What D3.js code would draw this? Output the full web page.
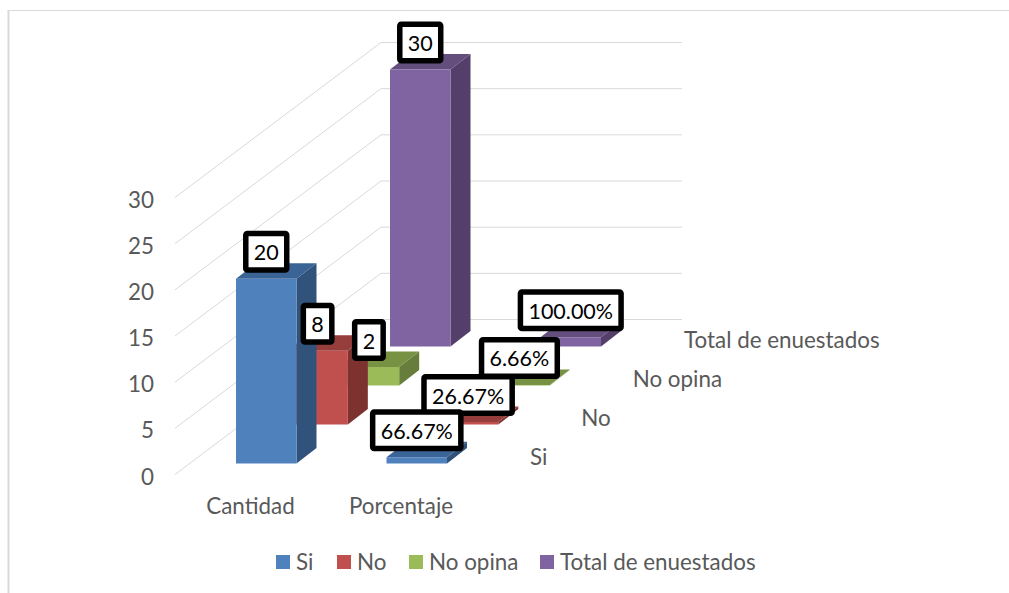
<!DOCTYPE html>
<html><head><meta charset="utf-8">
<script src="https://cdn.jsdelivr.net/npm/d3@7/dist/d3.min.js"></script>
<style>html,body{margin:0;padding:0;background:#fff}svg{display:block}text{font-family:Lato,sans-serif}</style>
</head><body><svg id="c" width="1009" height="593"></svg>
<script>
const categories = ["Cantidad", "Porcentaje"];
const seriesNames = ["Si", "No", "No opina", "Total de enuestados"];
const cantidad = [20, 8, 2, 30];
const porcentaje = [0.6667, 0.2667, 0.0666, 1];
const cantidadLabels = ["20", "8", "2", "30"];
const porcentajeLabels = ["66.67%", "26.67%", "6.66%", "100.00%"];
const yTicks = [0, 5, 10, 15, 20, 25, 30];
const faceColors = ["#4F81BD", "#C0504D", "#9BBB59", "#8064A2"];
const sideColors = ["#31527A", "#7E3230", "#677D3B", "#533F69"];
const topColors = ["#3A6496", "#953E3B", "#779243", "#634E7E"];

const svg = d3.select("#c");
const GRID = "#D9D9D9", TXT = "#595959", FS = 22.4;

// pseudo-3D projection: value -> up, category -> right, series -> into the page
const h = d3.scaleLinear().domain([0, 30]).range([0, 277]);
const catX = d3.scalePoint().domain(categories).range([236, 386.5]);
const depthX = d3.scalePoint().domain(seriesNames).range([0, 154]);
const depthY = d3.scalePoint().domain(seriesNames).range([463.5, 346.5]);
const barW = 60.5, sideDX = 20, sideDY = 15.5;

// frame
svg.append("path").attr("d", d3.line()([[8.5, 593], [8.5, 10.5]]))
  .attr("fill", "none").attr("stroke", GRID).attr("stroke-width", 2);
svg.append("path").attr("d", d3.line()([[7.5, 10.5], [1009, 10.5]]))
  .attr("fill", "none").attr("stroke", GRID).attr("stroke-width", 1);

// walls
const wallFrontX = 175, wallFrontY0 = 474.5, wallBackX = 381, wallBackY0 = 319.5, wallEndX = 682;
const grid = svg.append("g").attr("fill", "none").attr("stroke", GRID).attr("stroke-width", 1);
yTicks.forEach(t => {
  grid.append("path").attr("d", d3.line()([
    [wallFrontX, wallFrontY0 - h(t)], [wallBackX, wallBackY0 - h(t)], [wallEndX, wallBackY0 - h(t)]
  ]));
});

// value axis
const axisT = svg.append("g").attr("font-size", FS).attr("fill", TXT).attr("text-anchor", "end");
yTicks.forEach(t => axisT.append("text").attr("x", 154).attr("y", wallFrontY0 - h(t) + 10).text(t));

// bars, back to front
const rows = [];
categories.forEach((c, ci) => seriesNames.forEach((s, si) => rows.push({
  c, s, si,
  v: ci === 0 ? cantidad[si] : porcentaje[si],
  label: ci === 0 ? cantidadLabels[si] : porcentajeLabels[si]
})));
rows.sort((a, b) => b.si - a.si);

const bars = svg.append("g");
rows.forEach(d => {
  const x0 = catX(d.c) + depthX(d.s), x1 = x0 + barW, yb = depthY(d.s), yt = yb - h(d.v);
  const poly = pts => d3.line()(pts) + "Z";
  const g = bars.append("g");
  g.append("path").attr("fill", sideColors[d.si]).attr("d", poly([[x1, yb], [x1 + sideDX, yb - sideDY], [x1 + sideDX, yt - sideDY], [x1, yt]]));
  g.append("path").attr("fill", topColors[d.si]).attr("d", poly([[x0, yt], [x0 + sideDX, yt - sideDY], [x1 + sideDX, yt - sideDY], [x1, yt]]));
  g.append("path").attr("fill", faceColors[d.si]).attr("d", poly([[x0, yb], [x1, yb], [x1, yt], [x0, yt]]));
});

// data labels
const labels = svg.append("g");
rows.forEach(d => {
  const cx = catX(d.c) + depthX(d.s) + barW / 2, cy = depthY(d.s) - h(d.v) - 27;
  const g = labels.append("g");
  const r = g.append("rect").attr("fill", "#fff").attr("stroke", "#000").attr("stroke-width", 5.5).attr("rx", 1.5);
  const t = g.append("text").attr("x", cx).attr("y", cy + 8.5).attr("text-anchor", "middle").attr("font-size", 21.5).attr("fill", "#000").text(d.label);
  const w = t.node().getComputedTextLength() + 16;
  r.attr("x", cx - w / 2).attr("y", cy - 18.25).attr("width", w).attr("height", 36.5);
});

// category labels
const catT = svg.append("g").attr("font-size", FS).attr("fill", TXT).attr("text-anchor", "middle");
categories.forEach(c => catT.append("text").attr("x", catX(c) + 14.5).attr("y", 513.5).text(c));

// series labels on depth axis
const serT = svg.append("g").attr("font-size", FS).attr("fill", TXT);
seriesNames.forEach(s => serT.append("text").attr("x", 530 + depthX(s)).attr("y", depthY(s) + 1).text(s));

// legend
const legendX = [276, 337, 409, 540];
const leg = svg.append("g");
seriesNames.forEach((s, i) => {
  leg.append("rect").attr("x", legendX[i]).attr("y", 555).attr("width", 14).attr("height", 14).attr("fill", faceColors[i]);
  leg.append("text").attr("x", legendX[i] + 20).attr("y", 569.5).attr("font-size", FS).attr("fill", TXT).text(s);
});
</script></body></html>
